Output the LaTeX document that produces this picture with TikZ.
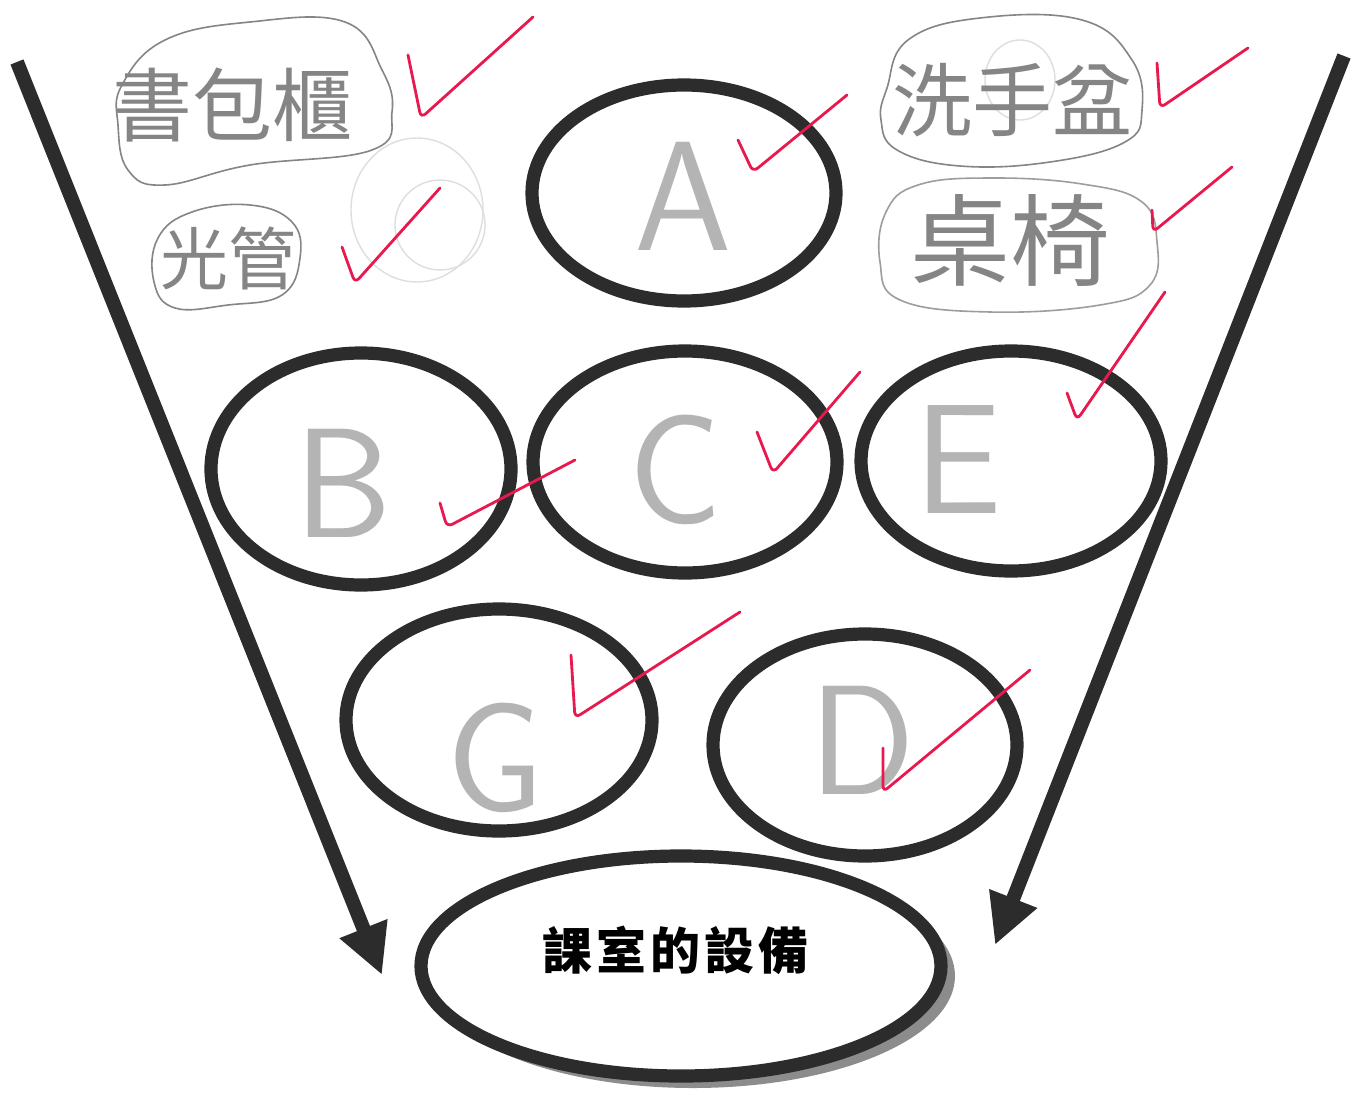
\documentclass[tikz,border=0pt]{standalone}
\usepackage{fontspec}
\newfontfamily\cjk{Noto Sans CJK TC}
\usetikzlibrary{shapes.geometric,arrows.meta}
\definecolor{ink}{HTML}{2C2C2C}
\definecolor{pencil}{HTML}{858585}
\definecolor{lightpencil}{HTML}{B4B4B4}
\definecolor{faint}{HTML}{DEDEDE}
\definecolor{redpen}{HTML}{E8194F}
\definecolor{shadow}{HTML}{8C8C8C}
\begin{document}
\begin{tikzpicture}[x=0.5pt,y=-0.5pt,
  bub/.style={draw=ink, line width=6.6pt, ellipse, inner sep=0pt},
  bigarrow/.style={draw=ink, line width=7pt, -{Triangle[length=25pt,width=24pt]}},
  letter/.style={text=lightpencil, font=\sffamily\fontsize{78}{78}\selectfont, inner sep=0pt},
  hw/.style={text=pencil, inner sep=0pt},
  blob/.style={draw=pencil, line width=0.8pt},
  erased/.style={draw=faint, line width=0.7pt},
  check/.style={draw=redpen, line width=1.4pt, rounded corners=3pt, line cap=round}]
\useasboundingbox (0,0) rectangle (1364,1097);
\fill[white] (0,0) rectangle (1364,1097);

% erased pencil marks
\draw[erased] (417,210) ellipse [x radius=66, y radius=72];
\draw[erased] (440,225) ellipse [x radius=45, y radius=45];
\draw[erased] (1020,80) ellipse [x radius=35, y radius=40];

% handwritten blobs
\draw[blob] plot[smooth cycle, tension=0.7] coordinates {(122,85) (165,40) (250,22) (345,22) (382,70) (392,112) (372,150) (250,165) (165,185) (128,170) (118,125)};
\draw[blob] plot[smooth cycle, tension=0.7] coordinates {(158,238) (192,212) (250,205) (292,222) (300,258) (282,295) (228,305) (175,308) (154,282)};
\draw[blob] plot[smooth cycle, tension=0.7] coordinates {(887,88) (908,40) (980,18) (1082,20) (1132,60) (1142,110) (1125,142) (1050,162) (960,166) (897,150) (881,120)};
\draw[blob, draw=pencil!80] plot[smooth cycle, tension=0.7] coordinates {(886,212) (918,185) (990,178) (1082,184) (1142,202) (1157,242) (1150,285) (1100,305) (990,312) (900,300) (880,262)};

% handwritten texts
\node[hw, font=\cjk\fontsize{40}{40}\selectfont] (t1) at (232,105) {書包櫃};
\node[hw, font=\cjk\fontsize{34}{34}\selectfont] (t2) at (228,258) {光管};
\node[hw, font=\cjk\fontsize{40}{40}\selectfont] (t3) at (1012,100) {洗手盆};
\node[hw, font=\cjk\fontsize{50}{50}\selectfont] (t4) at (1010,240) {桌椅};

% arrows
\coordinate (la) at (17,62);
\coordinate (lb) at (382,975);
\coordinate (ra) at (1344,56);
\coordinate (rb) at (995,945);
\draw[bigarrow] (la) -- (lb);
\draw[bigarrow] (ra) -- (rb);

% ellipses
\node[bub, minimum width=152pt, minimum height=108pt] (A) at (684,193) {};
\node[bub, minimum width=150pt, minimum height=116pt] (B) at (361,469) {};
\node[bub, minimum width=152pt, minimum height=111pt] (C) at (685,462) {};
\node[bub, minimum width=150pt, minimum height=110pt] (E) at (1011,461) {};
\node[bub, minimum width=153pt, minimum height=111pt] (G) at (499,720) {};
\node[bub, minimum width=152pt, minimum height=111pt] (D) at (865,745) {};

% bottom ellipse with shadow
\fill[shadow] (693,976) ellipse [x radius=262, y radius=112];
\node[bub, fill=white, minimum width=260pt, minimum height=110pt] (M) at (681,966) {};
\node[font=\cjk\bfseries\fontsize{25}{25}\selectfont, text=black] (Mt) at (675,950) {課\kern2pt 室\kern2pt 的\kern2pt 設\kern2pt 備};

% letters
\node[letter] (la1) at (683,196) {A};
\node[letter] (lb1) at (343,483) {B};
\node[letter] (lc1) at (675,470) {C};
\node[letter] (le1) at (958,460) {E};
\node[letter] (lg1) at (495,758) {G};
\node[letter] (ld1) at (862,740) {D};

% red check marks
\draw[check] (408,55) -- (421,118) -- (533,17);
\draw[check] (342,247) -- (355,283) -- (440,188);
\draw[check] (738,140) -- (753,172) -- (847,95);
\draw[check] (1157,63) -- (1160,108) -- (1248,48);
\draw[check] (1152,210) -- (1153,232) -- (1232,167);
\draw[check] (1067,393) -- (1077,420) -- (1165,292);
\draw[check] (440,503) -- (447,527) -- (575,460);
\draw[check] (757,432) -- (773,473) -- (860,372);
\draw[check] (571,655) -- (575,718) -- (740,612);
\draw[check] (883,748) -- (883,792) -- (1030,670);
\end{tikzpicture}
\end{document}
